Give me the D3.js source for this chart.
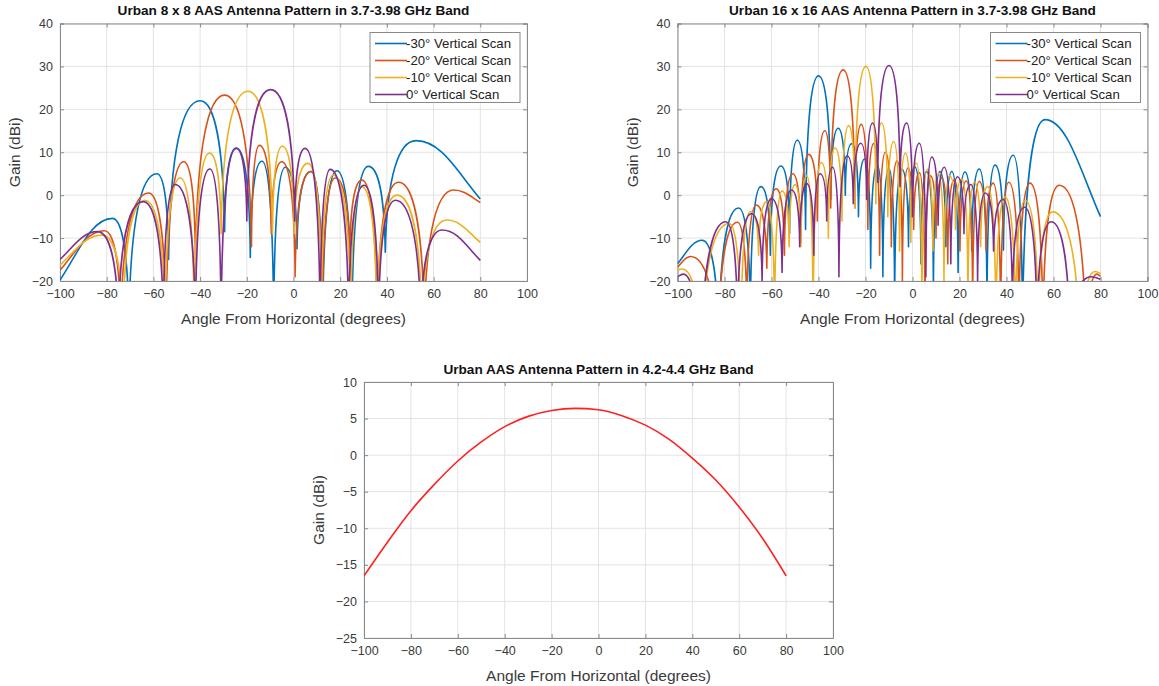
<!DOCTYPE html>
<html>
<head>
<meta charset="utf-8">
<script src="https://cdn.jsdelivr.net/npm/d3@7"></script>
<style>
  body { margin: 0; background: #fff; }
  svg text { font-family: "Liberation Sans", Arial, Helvetica, sans-serif; }
</style>
</head>
<body>
<svg id="chart" width="1159" height="686"></svg>
<script>
// ---- data: [angle (deg), gain (dBi)] at lobe peaks and nulls ----
const scanNames = ['-30\u00b0 Vertical Scan', '-20\u00b0 Vertical Scan', '-10\u00b0 Vertical Scan', '0\u00b0 Vertical Scan'];
const scanColors = ['#0072BD', '#D95319', '#EDB120', '#7E2F8E'];

// 8 x 8 array
const urban8Scan30 = [[-100,-19.8],[-77.5,-5.4],[-70.5,-30],[-58.5,5],[-53.5,-15],[-40,22],[-29.5,-8.5],[-24.5,11],[-18.5,-14.5],[-13.5,7.9],[-8.5,-30],[-3.5,6.5],[1.5,-12.5],[7.5,5.5],[12.5,-30],[18.6,5.7],[25,-30],[32,6.7],[39.3,-13.3],[52.5,12.7],[80,-0.9]];
const urban8Scan20 = [[-100,-17.5],[-81,-8.3],[-74,-30],[-62,0.5],[-54.6,-30],[-47,7.8],[-42,-15],[-29.5,23.3],[-18,-12],[-14.6,11.6],[-9.5,-9],[-5,7.8],[0.7,-19],[7.5,5.5],[12.3,-30],[17.9,4],[24,-15],[29.3,3.5],[35.8,-30],[45,3],[56,-30],[68.6,1.2],[80,-1.7]];
const urban8Scan10 = [[-100,-16.3],[-82,-9.3],[-73,-30],[-63.6,-1.2],[-55,-30],[-48.5,4],[-42.5,-30],[-36,9.8],[-31,-9],[-19.5,24.2],[-9,-9],[-4.8,11.4],[0.3,-9],[6.2,7.4],[12,-25],[17,4.7],[24.5,-30],[29.3,2],[35.7,-30],[44.3,0],[55,-30],[65.7,-5.8],[80,-11]];
const urban8Scan0 = [[-100,-15],[-84,-8.5],[-75,-30],[-64.3,-1.5],[-55.7,-30],[-50.7,2.5],[-42,-30],[-35.8,6.1],[-31,-30],[-24.5,10.9],[-20,-6],[-9.8,24.6],[0.5,-6],[5,10.9],[11.4,-30],[15.7,6],[23.6,-30],[30.2,2.3],[36.4,-30],[43.6,-1.2],[54.5,-30],[63.6,-8.1],[80,-15.2]];

// 16 x 16 array
const urban16Scan30 = [[-100,-16],[-89.5,-10.5],[-82.5,-35],[-74,-3],[-69,-28],[-64.5,2],[-60.5,-14],[-56,6.8],[-52.3,-9],[-49,12.8],[-45.5,-8],[-40,27.8],[-34.8,-1],[-31.6,15.6],[-28.6,0],[-25.8,12],[-23,-5],[-20.3,8.5],[-17.8,-17],[-15,7],[-12.6,-19],[-10,6.2],[-7.6,-25],[-4.5,6],[-1.7,-12],[1,6.6],[3.6,-16],[6,5.5],[8.9,-22],[11.7,5.5],[14.2,-12],[16.7,5.5],[19.4,-18],[22.3,5.4],[25.2,-13],[28.4,6.1],[31.7,-25],[35.1,7],[38.7,-12.8],[42.9,9.3],[46.8,-32],[56.4,17.6],[80,-5]];
const urban16Scan20 = [[-100,-16.8],[-94.5,-14.3],[-83,-40],[-74.5,-6.3],[-70.5,-28],[-66.5,-2.3],[-62,-17],[-58,1.5],[-54.5,-14],[-51,5],[-47.5,-11],[-44.2,9.5],[-40.5,-6],[-37.3,15],[-34.8,-3],[-29.5,29.2],[-24.5,-3],[-21.8,16.5],[-19,-8],[-16.5,12],[-14,-14],[-11.5,10],[-9,-12],[-6.5,8],[-4.3,-20],[-2,6.3],[0.5,-8],[3,5.2],[5.3,-28],[7.7,4.5],[10,-10],[12.5,4],[15,-16],[17.7,3.5],[20.2,-13],[22.9,3.3],[25.6,-25],[28.4,3.2],[31.3,-13],[34.3,2.8],[37.5,-30],[41,3],[45.3,-30],[50,2.8],[55.5,-32],[62.5,2.3],[74,-38],[78.4,-18.4],[80,-18.9]];
const urban16Scan10 = [[-100,-17.5],[-98,-17.2],[-90,-40],[-78,-6.6],[-73,-35],[-69,-3.8],[-65.5,-14],[-62,-1.5],[-58.7,-30],[-55.5,1],[-52.5,-12],[-50,2.5],[-47.5,-12],[-45,4.5],[-42.3,-30],[-38.8,7.6],[-35.8,-10],[-33,11],[-30,-6],[-27.2,16.2],[-24.5,-3],[-19.8,30],[-15.6,-2],[-13.2,16.8],[-10.5,-5],[-8,12.5],[-5.5,-13],[-3,9.8],[-0.7,-11],[1.7,7.5],[4,-28],[6.3,6],[8.7,-13],[11,5],[13.4,-20],[15.8,4.5],[18.3,-8],[21,3.8],[23.6,-25],[26.3,3],[29,-12],[32,2],[35.5,-32],[39.4,-0.4],[43.8,-32],[47.9,-1.2],[53.5,-32],[59.6,-3.9],[71.5,-40],[77.7,-17.8],[80,-18.3]];
const urban16Scan0 = [[-100,-19],[-97.5,-18.4],[-90.5,-45],[-79.5,-6.2],[-74.5,-30],[-68.5,-4.3],[-64,-20],[-60,-0.8],[-55.5,-18],[-51.4,1.2],[-48,-12],[-45,2.7],[-42,-14],[-39.3,5],[-36.5,-6],[-34,6.5],[-31.3,-19],[-27.8,9.2],[-25.2,-2],[-22,12.1],[-19.5,-1],[-17,16.8],[-14.8,3],[-10,30.2],[-5.3,2],[-2.5,16.8],[0,-5],[2.9,12.1],[5.7,-19],[8.2,8.9],[10.9,-7],[13.5,6.5],[16.3,-16],[19.2,4.3],[21.9,-9],[24.8,2.5],[27.7,-20],[31,0.5],[34.5,-13],[38.5,-1],[42.5,-25],[47.7,-2.8],[53,-32],[59,-6.2],[67,-35],[76.2,-19],[80,-19.6]];

// 4.2-4.4 GHz single pattern
const bandAngles = [-100,-90,-80,-70,-60,-50,-40,-30,-20,-10,0,10,20,30,40,50,60,70,80];
const bandGain = [-16.5,-11.9,-7.6,-4,-0.8,1.8,3.9,5.3,6.1,6.4,6.2,5.4,4.1,2.2,-0.4,-3.4,-7.1,-11.4,-16.5];

const xTicks = d3.range(-100, 101, 20);

const panels = [
  {
    title: 'Urban 8 x 8 AAS Antenna Pattern in 3.7-3.98 GHz Band',
    left: 60, right: 527, top: 23.5, bottom: 281,
    yDomain: [-20, 40], yTicks: d3.range(-20, 41, 10), lobed: true,
    series: [urban8Scan30, urban8Scan20, urban8Scan10, urban8Scan0].map((d, i) => ({ name: scanNames[i], color: scanColors[i], data: d })),
    legend: true
  },
  {
    title: 'Urban 16 x 16 AAS Antenna Pattern in 3.7-3.98 GHz Band',
    left: 677.5, right: 1147.5, top: 23.5, bottom: 281,
    yDomain: [-20, 40], yTicks: d3.range(-20, 41, 10), lobed: true,
    series: [urban16Scan30, urban16Scan20, urban16Scan10, urban16Scan0].map((d, i) => ({ name: scanNames[i], color: scanColors[i], data: d })),
    legend: true
  },
  {
    title: 'Urban AAS Antenna Pattern in 4.2-4.4 GHz Band',
    left: 364, right: 833, top: 382, bottom: 638,
    yDomain: [-25, 10], yTicks: d3.range(-25, 11, 5), lobed: false,
    series: [{ name: 'gain', color: '#FF2020', data: bandAngles.map((a, i) => [a, bandGain[i]]) }],
    legend: false
  }
];

// curve for antenna lobes: round tops, steep sides into the nulls
function curveLobe(context) {
  let pts;
  return {
    areaStart() {}, areaEnd() {},
    lineStart() { pts = []; },
    point(x, y) { pts.push([+x, +y]); },
    lineEnd() {
      const n = pts.length;
      if (!n) return;
      // screen y: smaller is higher
      const kind = pts.map((p, i) => {
        if (i === 0 || i === n - 1) return 'end';
        if (p[1] < pts[i - 1][1] && p[1] < pts[i + 1][1]) return 'peak';
        if (p[1] > pts[i - 1][1] && p[1] > pts[i + 1][1]) return 'null';
        return 'mid';
      });
      context.moveTo(pts[0][0], pts[0][1]);
      for (let i = 0; i < n - 1; i++) {
        const a = pts[i], b = pts[i + 1], dx = b[0] - a[0], dy = b[1] - a[1];
        let c1, c2;
        if (kind[i + 1] === 'peak' && kind[i] === 'null') {
          c1 = [a[0] + 0.05 * dx, a[1] + 0.7 * dy]; c2 = [a[0] + 0.45 * dx, b[1]];
        } else if (kind[i + 1] === 'peak') {
          c1 = [a[0] + 0.35 * dx, a[1] + 0.45 * dy]; c2 = [a[0] + 0.6 * dx, b[1]];
        } else if (kind[i] === 'peak' && kind[i + 1] === 'null') {
          c1 = [a[0] + 0.55 * dx, a[1]]; c2 = [b[0] - 0.05 * dx, b[1] - 0.7 * dy];
        } else if (kind[i] === 'peak') {
          c1 = [a[0] + 0.4 * dx, a[1]]; c2 = [b[0] - 0.35 * dx, b[1] - 0.45 * dy];
        } else {
          c1 = [a[0] + dx / 3, a[1] + dy / 3]; c2 = [a[0] + 2 * dx / 3, a[1] + 2 * dy / 3];
        }
        context.bezierCurveTo(c1[0], c1[1], c2[0], c2[1], b[0], b[1]);
      }
    }
  };
}

const svg = d3.select('#chart');

panels.forEach((p, pi) => {
  const x = d3.scaleLinear().domain([-100, 100]).range([p.left, p.right]);
  const y = d3.scaleLinear().domain(p.yDomain).range([p.bottom, p.top]);
  const w = p.right - p.left, h = p.bottom - p.top;
  const g = svg.append('g');

  // grid
  g.append('g').selectAll('line').data(xTicks).join('line')
    .attr('x1', d => x(d)).attr('x2', d => x(d)).attr('y1', p.top).attr('y2', p.bottom)
    .attr('stroke', '#e3e3e3').attr('stroke-width', 1);
  g.append('g').selectAll('line').data(p.yTicks).join('line')
    .attr('x1', p.left).attr('x2', p.right).attr('y1', d => y(d)).attr('y2', d => y(d))
    .attr('stroke', '#e3e3e3').attr('stroke-width', 1);

  // axes (ticks inward, box all round)
  const tk = 4;
  const xb = g.append('g').attr('transform', `translate(0,${p.bottom})`)
    .call(d3.axisBottom(x).tickValues(xTicks).tickSize(-tk).tickPadding(8));
  const xt = g.append('g').attr('transform', `translate(0,${p.top})`)
    .call(d3.axisTop(x).tickValues(xTicks).tickSize(-tk).tickFormat(''));
  const yl = g.append('g').attr('transform', `translate(${p.left},0)`)
    .call(d3.axisLeft(y).tickValues(p.yTicks).tickSize(-tk).tickPadding(7));
  const yr = g.append('g').attr('transform', `translate(${p.right},0)`)
    .call(d3.axisRight(y).tickValues(p.yTicks).tickSize(-tk).tickFormat(''));
  [xb, xt, yl, yr].forEach(a => {
    a.select('.domain').attr('stroke', '#8a8a8a');
    a.selectAll('.tick line').attr('stroke', '#8a8a8a');
    a.selectAll('.tick text').attr('fill', '#3a3a3a').style('font-size', '12.5px');
  });

  // curves
  const clipId = 'clip' + pi;
  svg.append('clipPath').attr('id', clipId).append('rect')
    .attr('x', p.left).attr('y', p.top).attr('width', w).attr('height', h);
  const line = d3.line().x(d => x(d[0])).y(d => y(d[1]))
    .curve(p.lobed ? curveLobe : d3.curveMonotoneX);
  g.append('g').attr('clip-path', `url(#${clipId})`)
    .selectAll('path').data(p.series).join('path')
    .attr('d', s => line(s.data))
    .attr('fill', 'none').attr('stroke', s => s.color).attr('stroke-width', 1.6)
    .attr('stroke-linejoin', 'round');

  // titles
  g.append('text').attr('x', (p.left + p.right) / 2).attr('y', p.top - 8.5)
    .attr('text-anchor', 'middle').style('font-size', '13.6px').style('font-weight', 'bold')
    .attr('fill', '#111').text(p.title);
  g.append('text').attr('x', (p.left + p.right) / 2).attr('y', p.bottom + 43)
    .attr('text-anchor', 'middle').style('font-size', '15.5px').attr('fill', '#3a3a3a')
    .text('Angle From Horizontal (degrees)');
  g.append('text').attr('transform', `translate(${p.left - 40},${(p.top + p.bottom) / 2}) rotate(-90)`)
    .attr('text-anchor', 'middle').style('font-size', '15.5px').attr('fill', '#3a3a3a')
    .text('Gain (dBi)');

  // legend
  if (p.legend) {
    const lx = p.right - 157, ly = p.top + 9, lw = 150, lh = 70;
    const lg = g.append('g');
    lg.append('rect').attr('x', lx).attr('y', ly).attr('width', lw).attr('height', lh)
      .attr('fill', '#fff').attr('stroke', '#8a8a8a');
    p.series.forEach((s, i) => {
      const ry = ly + 11 + i * 17;
      lg.append('line').attr('x1', lx + 5).attr('x2', lx + 37).attr('y1', ry).attr('y2', ry)
        .attr('stroke', s.color).attr('stroke-width', 1.6);
      lg.append('text').attr('x', lx + 36).attr('y', ry + 4.5).style('font-size', '13.2px')
        .attr('fill', '#222').text(s.name);
    });
  }
});
</script>
</body>
</html>
